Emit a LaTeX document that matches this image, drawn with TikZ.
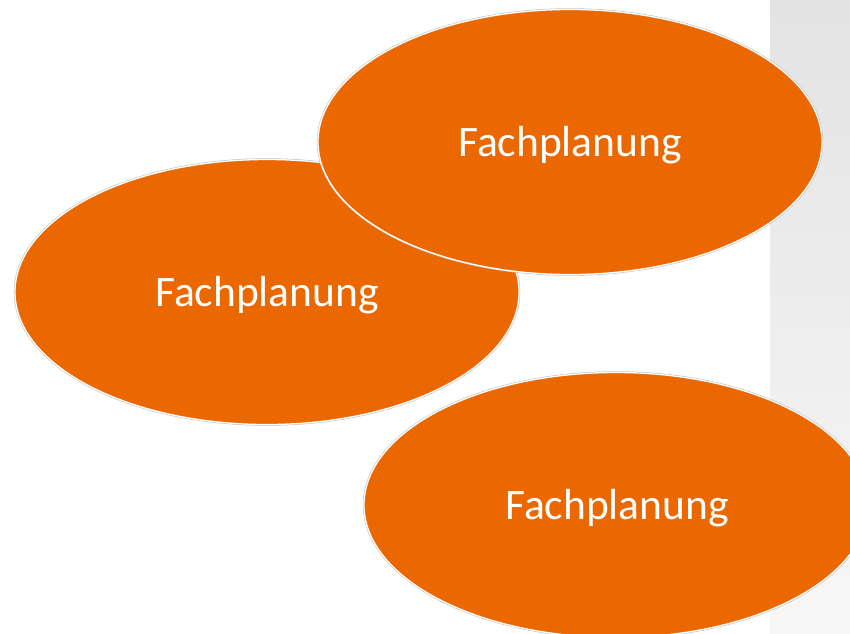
\documentclass[tikz,border=0pt]{standalone}
\usepackage{fontspec}
\setmainfont{Carlito}
\usetikzlibrary{shapes.geometric,positioning}

\definecolor{planorange}{RGB}{235,104,0}
\tikzset{
    planfeld/.style={ellipse, fill=planorange, draw=white, line width=1.3pt,
        preaction={draw=black!25, line width=2.4pt},
        minimum width=504pt, minimum height=265pt, inner sep=0pt,
        text=white, font=\fontsize{43.5}{48}\selectfont},
    plantext/.style={text=white, font=\fontsize{43.5}{48}\selectfont}
}

\begin{document}
\begin{tikzpicture}[x=1pt, y=-1pt]
        \useasboundingbox (0,0) rectangle (850,633);
        \clip (0,0) rectangle (850,633);
        \shade[top color=black!11, bottom color=black!3] (770,0) rectangle (850,633);

        \node[planfeld] (plan2) at (267,292) {};
        \node[plantext] (text2) at (267,295) {Fachplanung};
        \node[planfeld] (plan1) at (570,142) {};
        \node[plantext] (text1) at (570,145) {Fachplanung};
        \node[planfeld] (plan3) at (616,505) {};
        \node[plantext] (text3) at (617,508) {Fachplanung};
    \end{tikzpicture}
\end{document}
